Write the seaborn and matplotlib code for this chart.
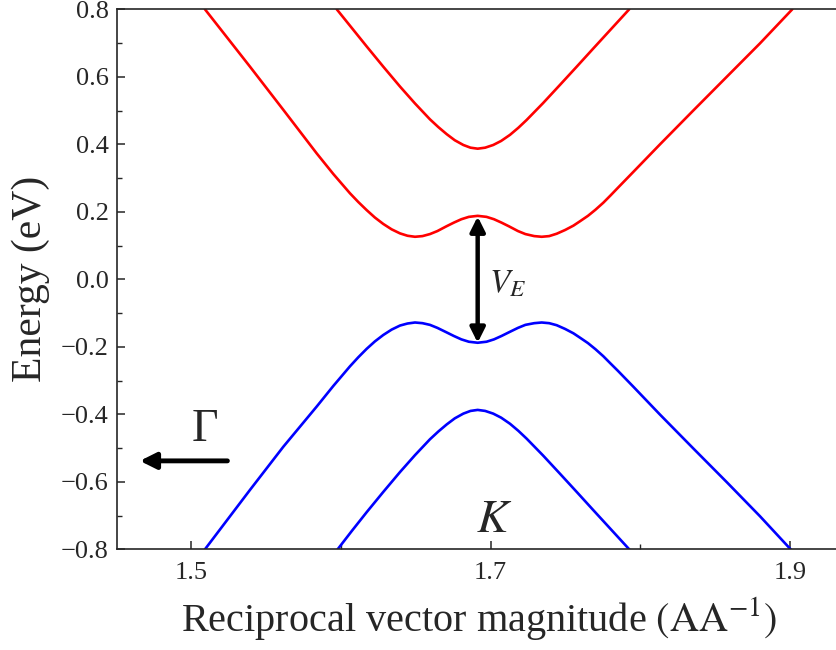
import numpy as np
import pandas as pd
import matplotlib
matplotlib.use("Agg")
import matplotlib.pyplot as plt
import seaborn as sns

# ---- data ----
red_outer_k = [1.5090, 1.5391, 1.5614, 1.5837, 1.5948, 1.6059, 1.6115, 1.6171, 1.6226, 1.6282,
               1.6338, 1.6394, 1.6444, 1.6494, 1.6544, 1.6594, 1.6644, 1.6704, 1.6754, 1.6804,
               1.6854, 1.6913, 1.6972, 1.7022, 1.7072, 1.7122, 1.7182, 1.7232, 1.7291, 1.7341,
               1.7391, 1.7441, 1.7497, 1.7553, 1.7597, 1.7650, 1.7700, 1.7753, 1.7800, 1.7850,
               1.7953, 1.8132, 1.8354, 1.8578, 1.8800, 1.9016]
red_outer_E = [0.800, 0.630, 0.502, 0.373, 0.312, 0.255, 0.229, 0.205, 0.183, 0.164,
               0.148, 0.136, 0.129, 0.126, 0.128, 0.134, 0.143, 0.157, 0.168, 0.178,
               0.185, 0.188, 0.185, 0.178, 0.168, 0.157, 0.143, 0.134, 0.128, 0.126,
               0.128, 0.135, 0.146, 0.159, 0.172, 0.188, 0.206, 0.227, 0.248, 0.271,
               0.318, 0.400, 0.500, 0.600, 0.699, 0.800]

red_inner_k = [1.5971, 1.6071, 1.6171, 1.6282, 1.6394, 1.6494, 1.6594, 1.6650, 1.6706, 1.6760,
               1.6817, 1.6865, 1.6913, 1.6963, 1.7017, 1.7070, 1.7129, 1.7185, 1.7240, 1.7350,
               1.7463, 1.7575, 1.7686, 1.7806, 1.7926]
red_inner_E = [0.800, 0.745, 0.690, 0.630, 0.571, 0.521, 0.474, 0.451, 0.430, 0.412,
               0.398, 0.390, 0.387, 0.390, 0.398, 0.410, 0.428, 0.449, 0.472, 0.522,
               0.576, 0.630, 0.684, 0.742, 0.800]

blue_outer_k = [1.5090, 1.5391, 1.5614, 1.5837, 1.5948, 1.6059, 1.6115, 1.6171, 1.6226, 1.6282,
                1.6338, 1.6394, 1.6444, 1.6494, 1.6544, 1.6594, 1.6644, 1.6704, 1.6754, 1.6804,
                1.6854, 1.6913, 1.6972, 1.7022, 1.7072, 1.7122, 1.7182, 1.7232, 1.7291, 1.7341,
                1.7391, 1.7441, 1.7497, 1.7553, 1.7597, 1.7650, 1.7700, 1.7753, 1.7800, 1.7850,
                1.7953, 1.8132, 1.8354, 1.8578, 1.8800, 1.9005]
blue_outer_E = [-0.800, -0.624, -0.496, -0.377, -0.316, -0.258, -0.231, -0.206, -0.184, -0.165,
                -0.149, -0.137, -0.131, -0.128, -0.130, -0.135, -0.144, -0.157, -0.168, -0.178,
                -0.185, -0.188, -0.185, -0.178, -0.168, -0.157, -0.144, -0.135, -0.130, -0.128,
                -0.130, -0.136, -0.147, -0.160, -0.173, -0.189, -0.207, -0.228, -0.249, -0.271,
                -0.318, -0.401, -0.501, -0.601, -0.702, -0.800]

blue_inner_k = [1.5977, 1.6071, 1.6171, 1.6282, 1.6394, 1.6494, 1.6594, 1.6650, 1.6706, 1.6760,
                1.6817, 1.6865, 1.6913, 1.6963, 1.7017, 1.7070, 1.7129, 1.7185, 1.7240, 1.7350,
                1.7463, 1.7575, 1.7686, 1.7806, 1.7926]
blue_inner_E = [-0.800, -0.746, -0.690, -0.630, -0.571, -0.521, -0.474, -0.451, -0.430, -0.412,
                -0.398, -0.390, -0.387, -0.390, -0.398, -0.410, -0.428, -0.449, -0.472, -0.522,
                -0.576, -0.630, -0.684, -0.742, -0.800]

x_major_ticks = [1.5, 1.7, 1.9]
x_minor_ticks = [1.6, 1.8]
y_major_ticks = [-0.8, -0.6, -0.4, -0.2, 0.0, 0.2, 0.4, 0.6, 0.8]

gap_k = 1.6913
gap_top = 0.186
gap_bottom = -0.188

# ---- build table ----
frames = []
for name, k, E in [("red_outer", red_outer_k, red_outer_E),
                   ("red_inner", red_inner_k, red_inner_E),
                   ("blue_outer", blue_outer_k, blue_outer_E),
                   ("blue_inner", blue_inner_k, blue_inner_E)]:
    frames.append(pd.DataFrame({"k": k, "E": E, "curve": name}))
df = pd.concat(frames, ignore_index=True)

sns.set_style("ticks")
plt.rcParams["font.family"] = ["Liberation Serif", "DejaVu Serif"]
plt.rcParams["mathtext.fontset"] = "stix"
plt.rcParams["axes.linewidth"] = 1.2

fig = plt.figure(figsize=(8.36, 6.5), dpi=100)
ax = fig.add_axes([117 / 836, 100.7 / 650, (840 - 117) / 836, (549.3 - 9.3) / 650])

palette = {"red_outer": "#ff0000", "red_inner": "#ff0000",
           "blue_outer": "#0000ff", "blue_inner": "#0000ff"}
for name, sub in df.groupby("curve", sort=False):
    sns.lineplot(data=sub, x="k", y="E", color=palette[name], lw=1.9, ax=ax,
                 sort=False, estimator=None, legend=False)

ax.set_xlim(1.4502, 1.9335)
ax.set_ylim(-0.8, 0.8)
ax.set_xticks(x_major_ticks)
ax.set_xticklabels([f"{v:.1f}" for v in x_major_ticks])
ax.set_xticks(x_minor_ticks, minor=True)
ax.set_yticks(y_major_ticks)
ax.set_yticklabels([f"{v:.1f}".replace("-", "\u2212") for v in y_major_ticks])
ax.yaxis.set_minor_locator(matplotlib.ticker.MultipleLocator(0.1))
ax.tick_params(which="major", direction="in", length=6, width=1.1, labelsize=19)
ax.tick_params(which="minor", direction="in", length=3.5, width=1.0)
ax.tick_params(axis="y", which="major", pad=6)
ax.tick_params(axis="x", which="major", pad=9)
ax.spines["right"].set_visible(False)

ax.set_xlabel(r"Reciprocal vector magnitude $(\mathrm{AA}^{-1})$", fontsize=29, labelpad=8)
ax.set_ylabel("Energy (eV)", fontsize=30)
ax.yaxis.set_label_coords(-0.093, 0.5)

# double arrow for the gap
ax.annotate("", xy=(gap_k, gap_top), xytext=(gap_k, gap_bottom),
            arrowprops=dict(arrowstyle="<|-|>", color="black", lw=3.2,
                            mutation_scale=22, shrinkA=0, shrinkB=0))
ax.text(1.6990, -0.015, r"$V_E$", fontsize=24, ha="left", va="center")

# Gamma arrow
ax.annotate("", xy=(1.4655, -0.538), xytext=(1.5240, -0.538),
            arrowprops=dict(arrowstyle="-|>", color="black", lw=3.5,
                            mutation_scale=24, shrinkA=0, shrinkB=0))
ax.text(1.5091, -0.447, "\u0393", fontsize=33, ha="center", va="center")
ax.text(1.7022, -0.715, r"$K$", fontsize=34, ha="center", va="center")

fig.savefig("out.png", dpi=100)
